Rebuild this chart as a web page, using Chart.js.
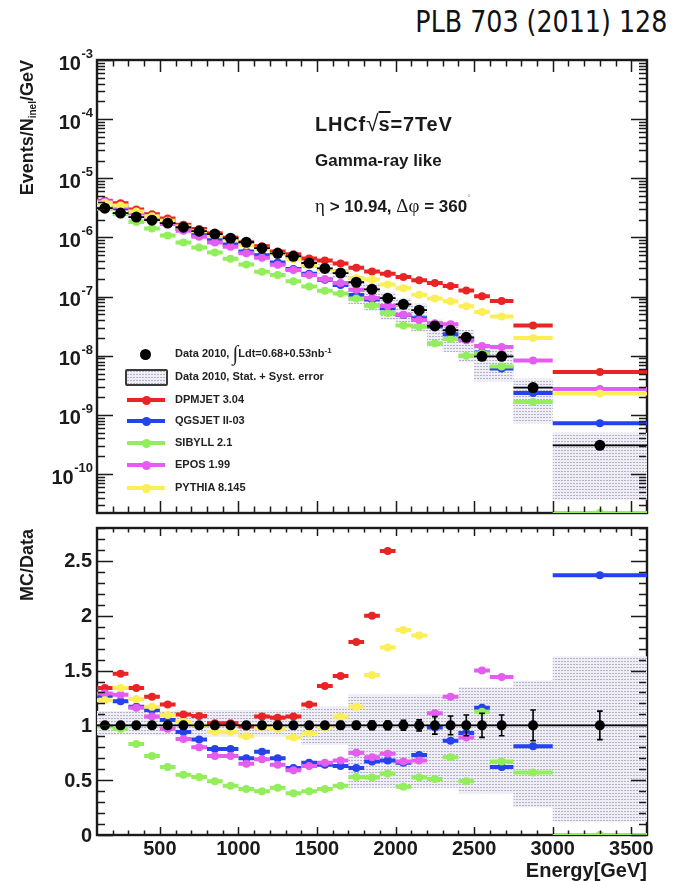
<!DOCTYPE html>
<html>
<head>
<meta charset="utf-8">
<script src="https://cdn.jsdelivr.net/npm/chart.js@4.4.1/dist/chart.umd.min.js"></script>
<style>
  html, body { margin: 0; padding: 0; background: #fff; }
  #page { position: relative; width: 675px; height: 881px; overflow: hidden;
          font-family: "Liberation Sans", Arial, Helvetica, sans-serif; color: #1a1a1a; }
  canvas { position: absolute; left: 0; }
  #cTop { top: 0; }
  #cRatio { top: 520px; }
  .t { position: absolute; white-space: nowrap; }
  #ref { right: 8px; top: 4px; font-family: "DejaVu Sans Condensed", "DejaVu Sans", sans-serif;
         font-stretch: condensed; font-size: 30px; line-height: 36px; color: #111; transform-origin: 100% 50%; }
  .ann { left: 315px; font-weight: bold; color: #1a1a1a; }
  .gr { font-family: "Liberation Serif", "DejaVu Serif", serif; font-weight: normal; font-size: 19px; }
  .lg { left: 175px; font-weight: bold; font-size: 11px; line-height: 11px; color: #222; }
  .int { font-family: "Liberation Serif", serif; font-weight: normal; font-size: 21px; line-height: 0; vertical-align: -3px; }
  .lg sup { font-size: 8px; vertical-align: 4px; line-height: 0; }
  .sw { position: absolute; }
  .ytitle { position: absolute; font-weight: bold; font-size: 18px; line-height: 20px; white-space: nowrap;
            transform-origin: 0 0; transform: rotate(-90deg) translate(-100%, -50%); }
  .ytitle sub { font-size: 10px; vertical-align: -3px; line-height: 0; }
</style>
</head>
<body>
<div id="page">
  <div id="ref" class="t">PLB 703 (2011) 128</div>

  <canvas id="cTop" width="675" height="520"></canvas>
  <canvas id="cRatio" width="675" height="361"></canvas>

  <div class="ytitle" style="left:27px; top:60px;">Events/N<sub>inel</sub>/GeV</div>
  <div class="ytitle" style="left:27px; top:529px;">MC/Data</div>
  <div class="t" style="right:28px; top:860px; font-weight:bold; font-size:20px; line-height:20px;">Energy[GeV]</div>

  <div class="t ann" style="top:113px; font-size:20px; line-height:20px; letter-spacing:0.8px;">LHCf<span style="font-weight:normal; font-size:23px; letter-spacing:0;">√</span><span style="text-decoration:overline">s</span>=7TeV</div>
  <div class="t ann" style="top:152px; font-size:17px; line-height:17px;">Gamma-ray like</div>
  <div class="t ann" style="top:190px; font-size:17px; line-height:17px;"><span class="gr">η</span> &gt; 10.94, <span class="gr">Δφ</span> = 360<span style="font-size:9px; vertical-align:11px; color:#999; font-weight:normal;">°</span></div>

  <div id="legend"></div>
</div>

<script>
// Energy bins [GeV]: 100 GeV wide up to 2.6 TeV, then wider bins.
const binEdges = [100, 200, 300, 400, 500, 600, 700, 800, 900, 1000, 1100, 1200, 1300, 1400,
                  1500, 1600, 1700, 1800, 1900, 2000, 2100, 2200, 2300, 2400, 2500, 2600,
                  2750, 3000, 3600];

// Measured spectrum, Events/N_inel/GeV
const dataSpectrum = [3.13e-6, 2.58e-6, 2.21e-6, 1.96e-6, 1.75e-6, 1.49e-6, 1.28e-6, 1.14e-6,
                      9.7e-7, 8.3e-7, 6.6e-7, 5.4e-7, 4.8e-7, 3.7e-7, 3.0e-7, 2.5e-7,
                      1.75e-7, 1.33e-7, 9.4e-8, 7.4e-8, 5.9e-8, 3.2e-8, 2.7e-8, 2.05e-8,
                      9.8e-9, 9.8e-9, 2.9e-9, 3.06e-10];

// Relative statistical error of the data
const dataStatErr = [0.01, 0.01, 0.01, 0.01, 0.015, 0.015, 0.02, 0.02, 0.02, 0.02, 0.025, 0.025,
                     0.03, 0.03, 0.03, 0.035, 0.035, 0.04, 0.04, 0.045, 0.05, 0.08, 0.085, 0.095,
                     0.11, 0.095, 0.14, 0.13];

// Stat. + syst. error band, relative to the data
const bandUpper = [1.13, 1.13, 1.13, 1.13, 1.13, 1.14, 1.14, 1.14, 1.14, 1.14, 1.14, 1.14, 1.14,
                   1.17, 1.17, 1.17, 1.28, 1.28, 1.28, 1.28, 1.28, 1.28, 1.28, 1.35, 1.35, 1.35,
                   1.41, 1.63];
const bandLower = [0.91, 0.91, 0.91, 0.91, 0.91, 0.90, 0.90, 0.90, 0.90, 0.90, 0.90, 0.90, 0.90,
                   0.82, 0.82, 0.82, 0.43, 0.43, 0.43, 0.43, 0.43, 0.43, 0.43, 0.38, 0.38, 0.38,
                   0.25, 0.12];

// Model predictions divided by the data (MC/Data)
const ratioDPMJET = [1.34, 1.47, 1.34, 1.26, 1.19, 1.10, 1.085, 1.02, 1.02, 0.99, 1.08, 1.07,
                     1.08, 1.19, 1.36, 1.45, 1.76, 2.00, 2.59, 2.9, 3.2, 5.3, 5.6, 6.2,
                     10.4, 8.6, 11.2, 17.4];
const ratioQGSJET = [1.27, 1.22, 1.17, 1.14, 1.05, 0.94, 0.87, 0.785, 0.785, 0.70, 0.76, 0.70,
                     0.61, 0.66, 0.64, 0.63, 0.61, 0.67, 0.68, 0.66, 0.73, 0.98, 0.86, 0.93,
                     1.16, 0.62, 0.81, 2.37];
const ratioSIBYLL = [0.99, 0.97, 0.83, 0.72, 0.62, 0.55, 0.53, 0.49, 0.45, 0.42, 0.40, 0.43,
                     0.38, 0.40, 0.42, 0.45, 0.53, 0.525, 0.56, 0.44, 0.525, 0.51, 0.71, 0.49,
                     1.125, 0.67, 0.57, 0];
const ratioEPOS   = [1.29, 1.28, 1.16, 1.08, 0.97, 0.875, 0.80, 0.72, 0.72, 0.65, 0.69, 0.64,
                     0.59, 0.63, 0.66, 0.68, 0.75, 0.71, 0.74, 0.67, 0.68, 1.11, 1.26, 0.89,
                     1.50, 1.44, 2.87, 9.0];
const ratioPYTHIA = [1.23, 1.34, 1.24, 1.17, 1.095, 1.03, 1.00, 0.94, 0.94, 0.90, 0.98, 0.97,
                     0.89, 0.93, 0.98, 1.08, 1.17, 1.46, 1.71, 1.87, 1.82, 2.9, 3.1, 3.35,
                     5.6, 4.7, 6.9, 7.5];

const modelNames  = ['DPMJET 3.04', 'QGSJET II-03', 'SIBYLL 2.1', 'EPOS 1.99', 'PYTHIA 8.145'];
const modelRatios = [ratioDPMJET, ratioQGSJET, ratioSIBYLL, ratioEPOS, ratioPYTHIA];
const modelColors = ['#ea2424', '#2442f0', '#92ee5a', '#e45cf0', '#fbef55'];

// Axis ticks
const energyTicks   = [500, 1000, 1500, 2000, 2500, 3000, 3500];
const energyLabels  = ['500', '1000', '1500', '2000', '2500', '3000', '3500'];
const ratioTicks    = [0, 0.5, 1, 1.5, 2, 2.5];
const ratioLabels   = ['0', '0.5', '1', '1.5', '2', '2.5'];
const decadeExps    = [-10, -9, -8, -7, -6, -5, -4, -3];

const X_MIN = 100, X_MAX = 3600;
const Y_TOP_MIN = 2.2e-11, Y_TOP_MAX = 1e-3;
const Y_RATIO_MIN = 0, Y_RATIO_MAX = 2.8;

// ---------- helpers building point lists from the bins ----------
const nBins = binEdges.length - 1;
const lo = i => binEdges[i], hi = i => binEdges[i + 1], mid = i => (binEdges[i] + binEdges[i + 1]) / 2;

// horizontal bar across each bin with the marker at the bin centre (index % 4 === 1)
function barPoints(vals) {
  const pts = [];
  for (let i = 0; i < nBins; i++) {
    const v = vals[i];
    pts.push({x: lo(i), y: v}, {x: mid(i), y: v}, {x: hi(i), y: v}, {x: hi(i), y: null});
  }
  return pts;
}
// vertical error bars with small end caps
function errPoints(vals, lowVals, highVals) {
  const pts = [], cap = 18;
  for (let i = 0; i < nBins; i++) {
    const c = mid(i);
    pts.push({x: c, y: lowVals[i]}, {x: c, y: highVals[i]}, {x: c, y: null});
    pts.push({x: c - cap, y: highVals[i]}, {x: c + cap, y: highVals[i]}, {x: c, y: null});
    pts.push({x: c - cap, y: lowVals[i]}, {x: c + cap, y: lowVals[i]}, {x: c, y: null});
  }
  return pts;
}
// step outline used for the error band
function stepPoints(vals) {
  const pts = [];
  for (let i = 0; i < nBins; i++) pts.push({x: lo(i), y: vals[i]}, {x: hi(i), y: vals[i]});
  return pts;
}

// stippled grey fill for the systematic band
const stippleCanvas = document.createElement('canvas');
stippleCanvas.width = 3; stippleCanvas.height = 3;
(function () {
  const g = stippleCanvas.getContext('2d');
  g.fillStyle = '#efedf5'; g.fillRect(0, 0, 3, 3);
  g.fillStyle = '#b3b2c4'; g.fillRect(0, 0, 2, 1);
})();
const stipple = stippleCanvas.getContext('2d').createPattern(stippleCanvas, 'repeat');

function bandSets(upper, lower) {
  return [
    {data: stepPoints(upper), fill: '+1', backgroundColor: stipple, borderColor: 'transparent',
     borderWidth: 1, pointRadius: 0, order: 20},
    {data: stepPoints(lower), fill: false, borderColor: 'transparent', borderWidth: 1,
     pointRadius: 0, order: 21}
  ];
}
function markerSet(vals, color, width, radius, order) {
  return {data: barPoints(vals), borderColor: color, backgroundColor: color, borderWidth: width,
          pointRadius: c => (c.dataIndex % 4 === 1 ? radius : 0), pointBackgroundColor: color,
          pointBorderWidth: 0, pointHoverRadius: 0, fill: false, spanGaps: false, order};
}
function errSet(vals, low, high, order) {
  return {data: errPoints(vals, low, high), borderColor: '#000', borderWidth: 1.6, pointRadius: 0,
          fill: false, spanGaps: false, order};
}

// ---------- ROOT-style frame: box under the data, inward ticks and labels on top ----------
const frameTicks = {
  id: 'frameTicks',
  beforeDatasetsDraw(chart) {
    const {ctx, chartArea: a} = chart;
    ctx.save();
    ctx.strokeStyle = '#1a1a1a';
    ctx.lineWidth = 2.4;
    ctx.strokeRect(a.left, a.top, a.right - a.left, a.bottom - a.top);
    ctx.restore();
  },
  afterDatasetsDraw(chart, args, o) {
    const {ctx, chartArea: a} = chart;
    const xs = chart.scales.x, ys = chart.scales.y;
    ctx.save();
    ctx.strokeStyle = '#1a1a1a';
    ctx.lineWidth = 1.5;
    ctx.beginPath();
    for (let v = X_MIN + 100; v < X_MAX; v += 100) {
      const px = Math.round(xs.getPixelForValue(v)) + 0.5;
      const len = v % 500 === 0 ? o.xMajor : o.xMinor;
      ctx.moveTo(px, a.bottom - 1); ctx.lineTo(px, a.bottom - len);
      ctx.moveTo(px, a.top + 1); ctx.lineTo(px, a.top + len);
    }
    const yTicks = [];
    if (o.log) {
      for (let e = -11; e <= -3; e++) for (let m = 1; m <= 9; m++) {
        const v = m * Math.pow(10, e);
        if (v >= ys.min * 0.999 && v <= ys.max * 1.001) yTicks.push([v, m === 1]);
      }
    } else {
      for (let k = 0; k <= 28; k++) yTicks.push([k / 10, k % 5 === 0]);
    }
    for (const [v, major] of yTicks) {
      const py = Math.round(ys.getPixelForValue(v)) + 0.5;
      const len = major ? o.yMajor : o.yMinor;
      ctx.moveTo(a.left + 1, py); ctx.lineTo(a.left + len, py);
      ctx.moveTo(a.right - 1, py); ctx.lineTo(a.right - len, py);
    }
    ctx.stroke();

    ctx.fillStyle = '#1a1a1a';
    const big = 'bold 20px "Liberation Sans", Arial, sans-serif';
    if (o.log) {
      const small = 'bold 13px "Liberation Sans", Arial, sans-serif';
      for (const e of decadeExps) {
        const py = ys.getPixelForValue(Math.pow(10, e));
        const ex = String(e);
        ctx.font = small;
        ctx.textAlign = 'right'; ctx.textBaseline = 'alphabetic';
        const ew = ctx.measureText(ex).width;
        ctx.fillText(ex, 93, py - 2);
        ctx.font = big; ctx.textBaseline = 'middle';
        ctx.fillText('10', 93 - ew - 0.5, py + 4);
      }
    } else {
      ctx.font = big; ctx.textAlign = 'right'; ctx.textBaseline = 'middle';
      ratioTicks.forEach((v, i) => ctx.fillText(ratioLabels[i], 92, ys.getPixelForValue(v) + 1));
    }
    if (o.xLabels) {
      ctx.font = big; ctx.textAlign = 'center'; ctx.textBaseline = 'alphabetic';
      energyTicks.forEach((v, i) => ctx.fillText(energyLabels[i], xs.getPixelForValue(v), a.bottom + 20));
    }
    ctx.restore();
  }
};

function baseOptions(yScale, pad, xHeight, frameOpts) {
  return {
    responsive: false, animation: false, events: [],
    layout: {padding: pad},
    plugins: {legend: {display: false}, tooltip: {enabled: false}, frameTicks: frameOpts},
    scales: {
      x: {type: 'linear', min: X_MIN, max: X_MAX, ticks: {display: false},
          grid: {display: false, drawTicks: false}, border: {display: false},
          afterFit(s) { s.height = xHeight; }},
      y: Object.assign({ticks: {display: false}, grid: {display: false, drawTicks: false},
          border: {display: false}, afterFit(s) { s.width = 97; }}, yScale)
    }
  };
}

// ---------- upper panel: spectra ----------
const topSets = [];
topSets.push(...bandSets(dataSpectrum.map((d, i) => d * bandUpper[i]),
                         dataSpectrum.map((d, i) => d * bandLower[i])));
modelRatios.forEach((r, m) => {
  // model spectrum = (MC/Data) x Data; entries below the axis sit on the axis
  const spec = r.map((v, i) => Math.max(v * dataSpectrum[i], Y_TOP_MIN));
  topSets.push(markerSet(spec, modelColors[m], 4, 4, 10 - m));
});
topSets.push(errSet(dataSpectrum, dataSpectrum.map((d, i) => d * (1 - dataStatErr[i])),
                    dataSpectrum.map((d, i) => d * (1 + dataStatErr[i])), 1));
topSets.push(markerSet(dataSpectrum, '#000', 1.8, 5.5, 0));

new Chart(document.getElementById('cTop'), {
  type: 'line',
  data: {datasets: topSets},
  options: baseOptions({type: 'logarithmic', min: Y_TOP_MIN, max: Y_TOP_MAX},
                       {left: 0, right: 28, top: 60, bottom: 0}, 7,
                       {log: true, xLabels: false, xMajor: 12, xMinor: 6.5, yMajor: 16, yMinor: 8}),
  plugins: [frameTicks]
});

// ---------- lower panel: MC / Data ----------
const unity = dataSpectrum.map(d => d / d);   // data divided by itself
const ratioSets = [];
ratioSets.push(...bandSets(bandUpper, bandLower));
modelRatios.forEach((r, m) => ratioSets.push(markerSet(r, modelColors[m], 4, 4, 10 - m)));
ratioSets.push(errSet(unity, dataStatErr.map(e => 1 - e), dataStatErr.map(e => 1 + e), 1));
ratioSets.push(markerSet(unity, '#000', 1.8, 5, 0));

new Chart(document.getElementById('cRatio'), {
  type: 'line',
  data: {datasets: ratioSets},
  options: baseOptions({type: 'linear', min: Y_RATIO_MIN, max: Y_RATIO_MAX},
                       {left: 0, right: 28, top: 8, bottom: 0}, 46,
                       {log: false, xLabels: true, xMajor: 8, xMinor: 4.5, yMajor: 16, yMinor: 8}),
  plugins: [frameTicks]
});

// ---------- legend inside the upper panel ----------
(function () {
  const lg = document.getElementById('legend');
  const rowY = [354, 377, 400, 421, 443, 465, 488];
  const add = (html, css, cls) => {
    const d = document.createElement('div');
    d.className = cls; d.innerHTML = html; Object.assign(d.style, css); lg.appendChild(d); return d;
  };
  // data marker
  add('', {left: '140px', top: (rowY[0] - 5.5) + 'px', width: '11px', height: '11px',
           borderRadius: '50%', background: '#000'}, 'sw');
  add('Data 2010, <span class="int">∫</span>Ldt=0.68+0.53nb<sup>-1</sup>', {top: (rowY[0] - 6) + 'px'}, 't lg');
  // band swatch
  add('', {left: '125px', top: (rowY[1] - 8) + 'px', width: '39px', height: '13px',
           border: '2px solid #3a3a3a', borderRadius: '2px',
           backgroundImage: 'url(' + stippleCanvas.toDataURL() + ')'}, 'sw');
  add('Data 2010, Stat. + Syst. error', {top: (rowY[1] - 6) + 'px'}, 't lg');
  modelNames.forEach((name, m) => {
    const y = rowY[m + 2];
    add('', {left: '127px', top: (y - 2) + 'px', width: '38px', height: '4px', background: modelColors[m]}, 'sw');
    add('', {left: '142px', top: (y - 4.5) + 'px', width: '9px', height: '9px', borderRadius: '50%',
             background: modelColors[m]}, 'sw');
    add(name, {top: (y - 6) + 'px'}, 't lg');
  });
})();

// fit the reference line to its width at the top right
(function () {
  const el = document.getElementById('ref');
  const w = el.getBoundingClientRect().width;
  if (w > 0) el.style.transform = 'scaleX(' + (252 / w).toFixed(3) + ')';
})();
</script>
</body>
</html>
